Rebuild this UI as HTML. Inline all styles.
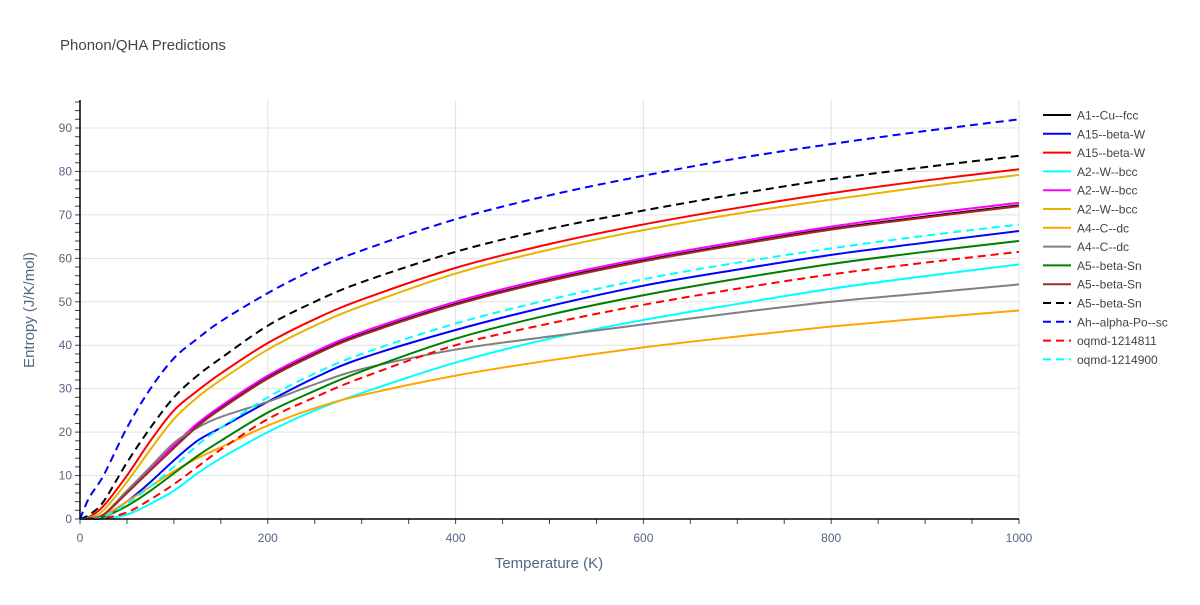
<!DOCTYPE html>
<html><head><meta charset="utf-8"><style>
body{margin:0;background:#fff;font-family:"Liberation Sans",sans-serif;}
text{font-family:"Liberation Sans",sans-serif;}
</style></head><body>
<svg id="chart" width="1200" height="600" xmlns="http://www.w3.org/2000/svg">
<rect width="1200" height="600" fill="#fff"/>
<text x="60" y="50" font-size="15" fill="#444">Phonon/QHA Predictions</text>
<g id="grid"></g>
<g id="series"></g>
<g id="axes"></g>
<g id="legend"></g>
<text x="549" y="568" font-size="15" fill="#506784" text-anchor="middle">Temperature (K)</text>
<text x="34" y="310" font-size="15" fill="#506784" text-anchor="middle" transform="rotate(-90 34 310)">Entropy (J/K/mol)</text>
</svg>
<script>
const temps=[0,10,25,50,75,100,125,150,200,250,300,400,500,600,700,800,900,1000];
const names=["A1--Cu--fcc","A15--beta-W","A15--beta-W","A2--W--bcc","A2--W--bcc","A2--W--bcc","A4--C--dc","A4--C--dc","A5--beta-Sn","A5--beta-Sn","A5--beta-Sn","Ah--alpha-Po--sc","oqmd-1214811","oqmd-1214900"];
const colors=["#000000","#0000ff","#ff0000","#00ffff","#ff00ff","#e6b400","#ffa500","#808080","#008000","#a52a2a","#000000","#0000ff","#ff0000","#00ffff"];
const dashed=[false,false,false,false,false,false,false,false,false,false,true,true,true,true];
const sA1=[0,0.2,1,6,11.3,16.5,21.5,25.5,32.5,38,42.5,49.5,55,59.5,63.3,66.8,69.6,72.2];
const sA15a=[0,0.1,0.8,4,8.5,13.5,18,21,27,32.5,37,43.5,49,53.7,57.4,60.8,63.6,66.3];
const sA15b=[0,0.5,3,10,18,25,29.5,33.5,40.5,46,50.5,57.8,63.3,67.8,71.6,75,77.9,80.5];
const sA2a=[0,0,0.1,1,3.5,6.5,10.5,14,20,25,29,36,41.5,45.8,49.5,53,55.9,58.6];
const sA2b=[0,0.2,1,6,11.5,17,22,26,33,38.5,43,50,55.5,60,63.8,67.3,70.2,72.8];
const sA2c=[0,0.3,2,8.5,16,23,28,32,39,44.5,49,56.5,62,66.5,70.3,73.5,76.5,79.2];
const sA4a=[0,0.1,0.8,4,7.5,11,14,16.5,21.5,25.5,28.5,33,36.5,39.5,42,44.3,46.2,48];
const sA4b=[0,0.2,1,6.5,12,17.5,21,23.5,27,31,34.5,39,42,44.8,47.5,50,52,54];
const sA5a=[0,0.1,0.5,3,6.5,10.5,14.5,18,24.5,29.5,34,41.5,47,51.5,55.3,58.7,61.5,64];
const sA5b=[0,0.2,1,6,11.2,16.3,21.3,25.3,32.3,37.8,42.3,49.3,54.8,59.3,63.1,66.6,69.4,72];
const sA5c=[0,1,4,13,21,28,33,37,44.5,50,54.5,61.5,66.8,71,74.8,78.2,81,83.6];
const sAh=[0,5,10,21,30,37,41.5,45.5,52,57.5,61.8,69,74.5,79,83,86.3,89.3,92];
const sO1=[0,0,0.2,1.5,4.5,8,12,16,23,28,32.5,40,45,49.3,53,56.3,59,61.5];
const sO2=[0,0.1,0.5,3.5,7.5,12,17,21,28,33.5,38,45,50.5,55.2,59,62.3,65.2,67.8];
const seriesVals=[sA1,sA15a,sA15b,sA2a,sA2b,sA2c,sA4a,sA4b,sA5a,sA5b,sA5c,sAh,sO1,sO2];
const xTicks=[0,200,400,600,800,1000];
const yTicks=[0,10,20,30,40,50,60,70,80,90];

const X0=80,X1=1019,Y0=519,YTOP=100;
const xs=v=>X0+v*(X1-X0)/1000;
const ys=v=>Y0-v*(519-128)/90;
const NS="http://www.w3.org/2000/svg";
function mk(tag,attrs,parent){const e=document.createElementNS(NS,tag);for(const k in attrs)e.setAttribute(k,attrs[k]);parent.appendChild(e);return e;}
const grid=document.getElementById('grid'),axes=document.getElementById('axes'),ser=document.getElementById('series'),leg=document.getElementById('legend');
xTicks.forEach(t=>{if(t>0){const l=mk('line',{x1:xs(t),x2:xs(t),y1:YTOP,y2:Y0,stroke:'#e1e1e1'},grid);

}
const tx=mk('text',{x:xs(t),y:542,'font-size':12,fill:'#506784','text-anchor':'middle'},axes);tx.textContent=t;

});
yTicks.forEach(t=>{if(t>0){const l=mk('line',{x1:X0,x2:X1,y1:ys(t),y2:ys(t),stroke:'#e1e1e1'},grid);

}
const tx=mk('text',{x:72,y:ys(t)+4,'font-size':12,fill:'#506784','text-anchor':'end'},axes);tx.textContent=t;

});
for(let v=0;v<=96;v+=2){mk('line',{x1:75,x2:X0,y1:ys(v),y2:ys(v),stroke:'#444'},axes);}
for(let v=0;v<=1000;v+=50){mk('line',{x1:xs(v),x2:xs(v),y1:Y0,y2:Y0+5,stroke:'#444'},axes);}
const ax1=mk('line',{x1:X0,x2:X0,y1:YTOP,y2:Y0,stroke:'#000','stroke-width':1.5},axes);

const ax2=mk('line',{x1:X0,x2:X1,y1:Y0,y2:Y0,stroke:'#000','stroke-width':1.5},axes);

function pathFor(vals){const p=temps.map((t,i)=>[xs(t),ys(vals[i])]);let d=`M${p[0][0]},${p[0][1]}`;
for(let i=0;i<p.length-1;i++){const a=p[Math.max(0,i-1)],b=p[i],c=p[i+1],e=p[Math.min(p.length-1,i+2)];
const c1=[b[0]+(c[0]-a[0])/6,b[1]+(c[1]-a[1])/6],c2=[c[0]-(e[0]-b[0])/6,c[1]-(e[1]-b[1])/6];
d+=` C${c1[0]},${c1[1]} ${c2[0]},${c2[1]} ${c[0]},${c[1]}`;}return d;}
seriesVals.forEach((vals,i)=>{const p=mk('path',{d:pathFor(vals),fill:'none',stroke:colors[i],'stroke-width':2,'stroke-dasharray':dashed[i]?'8,5':'none'},ser);


const y=115+i*18.8;
const g=mk('g',{},leg);


mk('line',{x1:1043,x2:1071,y1:y,y2:y,stroke:colors[i],'stroke-width':2,'stroke-dasharray':dashed[i]?'8,5':'none'},g);
const t=mk('text',{x:1077,y:y+4.5,'font-size':12,fill:'#444'},g);t.textContent=names[i];});
</script>
</body></html>
